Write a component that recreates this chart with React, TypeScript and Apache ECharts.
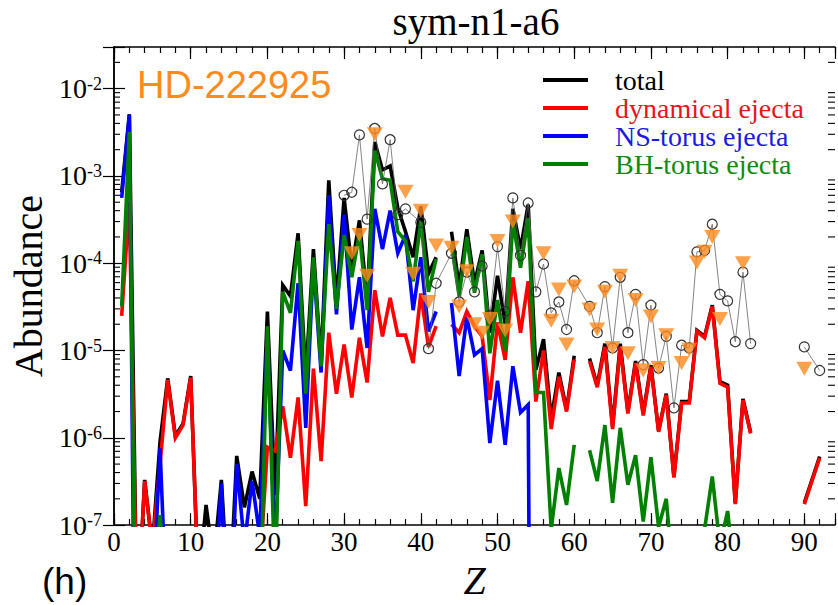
import React, { useEffect, useRef } from 'react';
import * as echarts from 'echarts';

// Atomic numbers Z = 1 .. 92 (x positions of the model curves)
const atomicNumbers: number[] = Array.from({ length: 92 }, (_, i) => i + 1);

// Model abundances indexed by Z-1 (null = no data / gap)
const total: (number | null)[] = [
  6.5e-4, 5.1e-3, 7e-9, 3.3e-7, 5.5e-8, 9e-7, 4.8e-6, 1.05e-6, 1.45e-6, 5.1e-6,
  2e-8, 1.7e-7, 3.7e-8, 3.3e-7, 1e-8, 6.2e-7, 1.6e-7, 4.1e-7, 2e-7, 2.8e-5,
  2.2e-7, 5.6e-5, 4.2e-5, 2.2e-4, 5e-6, 1.45e-4, 7.2e-6, 8.9e-4, 3.5e-5, 5.6e-4,
  8.9e-5, 3.1e-4, 3.8e-5, 2.45e-3, 1.17e-3, 1.3e-3, 4.3e-4, 2.3e-4, 1.17e-4, 4.5e-4,
  7.6e-5, 1.17e-4, null, 2.3e-4, 5.4e-5, 2.45e-4, 5.9e-5, 1.4e-4, 1.6e-5, 7.2e-5,
  2.0e-5, 4.2e-4, 1.45e-4, 4.7e-4, 6.0e-6, 1.35e-5, 1.66e-6, 5.6e-6, 2.1e-6, 8.7e-6,
  null, 8.1e-6, 4.0e-6, 1.2e-5, 1.35e-6, 1.2e-5, 2.0e-6, 7.6e-6, 1.9e-6, 6.8e-6,
  1.2e-6, 3.2e-6, 3.6e-7, 2.6e-6, 2.6e-6, 1.7e-5, 1.45e-5, 3.3e-5, 4.4e-6, 4.0e-6,
  1.8e-7, 2.8e-6, 1.15e-6, null, null, null, null, null, null, 1.8e-7,
  3.3e-7, 6.1e-7,
];

const dynamicalEjecta: (number | null)[] = [
  2.5e-5, 5e-4, 7e-9, 3.2e-7, 5.5e-8, 5e-7, 4.6e-6, 1e-6, 1.4e-6, 4.9e-6,
  2e-8, 1e-9, 1e-10, 1e-10, 1e-10, 1e-10, 1e-10, 1e-9, 3e-8, 7.8e-7,
  7e-7, 2.3e-6, 5.9e-7, 2.9e-6, 1.65e-7, 6.2e-6, 5.4e-7, 1.6e-5, 3.2e-6, 1.17e-5,
  2.9e-6, 1.4e-5, 4.3e-6, 4.9e-5, 1.45e-5, 4e-5, 1.5e-5, 1.5e-5, 7.2e-6, 4.5e-5,
  1.1e-5, 1.9e-5, null, 2e-5, 1.6e-5, 2.8e-5, 1.9e-5, 1.45e-5, 2.7e-6, 2.1e-5,
  7.8e-6, 6.9e-5, 1.6e-5, 6.2e-5, 2.6e-6, 1e-5, 1.26e-6, 5e-6, 2e-6, 7.9e-6,
  null, 7.6e-6, 3.8e-6, 1.1e-5, 1.26e-6, 1.1e-5, 1.9e-6, 7.2e-6, 1.8e-6, 6.5e-6,
  1.17e-6, 3.1e-6, 3.5e-7, 2.5e-6, 2.5e-6, 1.66e-5, 1.4e-5, 3.2e-5, 4.2e-6, 3.8e-6,
  1.74e-7, 2.7e-6, 1.12e-6, null, null, null, null, null, null, 1.74e-7,
  3.2e-7, 5.9e-7,
];

const nsTorusEjecta: (number | null)[] = [
  5.6e-4, 5e-3, 2e-12, 1e-10, 1e-8, 7.6e-7, 5e-9, 1e-10, 1e-10, 1e-10,
  1e-10, 1e-10, 1e-8, 3e-7, 3e-9, 5e-7, 6e-8, 3.2e-7, 7.5e-8, 1.6e-5,
  5e-8, 1.0e-5, 5.9e-6, 5.9e-5, 1.3e-6, 1.02e-4, 5.6e-6, 6e-4, 2.6e-5, 3.6e-4,
  1.74e-5, 6.9e-5, 1.07e-5, 4.2e-4, 1.45e-4, 4e-4, 1.3e-4, 2.1e-4, 2.9e-5, 1.17e-4,
  1.66e-5, 2.8e-5, null, 3.5e-5, 5.1e-6, 2.4e-5, 8.9e-6, 1.05e-5, 8.7e-7, 4.5e-6,
  8.3e-7, 6.6e-6, 1.95e-6, 2.4e-6, 1e-20,
];

const bhTorusEjecta: (number | null)[] = [
  3.2e-5, 3.2e-3, 1e-10, 1e-10, 1e-8, 1.3e-7, 1e-8, 1e-10, 1e-10, 1e-10,
  1e-10, 1e-10, 1e-10, 1e-10, 1e-10, 1e-10, 1e-10, 1e-10, 6e-9, 1.9e-5,
  2e-8, 4.7e-5, 2.7e-5, 1.8e-4, 3.2e-6, 1.17e-4, 6.6e-6, 2.8e-4, 3e-5, 2.1e-4,
  6.9e-5, 2.2e-4, 2.9e-5, 1.95e-3, 9.3e-4, 8.9e-4, 2.3e-4, 1.8e-4, 6.2e-5, 3e-4,
  4.7e-5, 1.12e-4, null, 1.66e-4, 4.2e-5, 2e-4, 4.6e-5, 1.26e-4, 9.3e-6, 3.8e-5,
  1e-5, 3e-4, 8.9e-5, 3.3e-4, 3.3e-6, 3.3e-6, 9e-8, 4.5e-7, 1.7e-7, 8.3e-7,
  null, 7.2e-7, 3.2e-7, 1.4e-6, 1.8e-7, 1.3e-6, 2.9e-7, 6.3e-7, 1.1e-7, 6e-7,
  9.5e-8, 2e-7, 2e-8, 1e-10, 1e-10, 1e-10, 9e-8, 3.6e-7, 5.8e-8, 1.45e-7,
  2.3e-8, 1e-10,
];

// Open circles joined by a thin line (scaled reference pattern)
const circleZ: number[] = [
  30, 31, 32, 33, 34, 35, 36, 37, 38, 40, 41, 42, 44, 45, 46, 47, 48, 49, 50, 51,
  52, 53, 54, 55, 56, 57, 58, 59, 60, 62, 63, 64, 65, 66, 67, 68, 69, 70, 71, 72,
  73, 74, 75, 76, 77, 78, 79, 80, 81, 82, 83, 84, 90, 92,
];
const circleAbundance: (number | null)[] = [
  6.0e-4, 6.5e-4, 2.95e-3, 3.2e-4, 3.5e-3, 8.1e-4, 2.6e-3, 3.6e-4, 4.2e-4, 2.95e-4,
  1.05e-5, 5.9e-5, 1.3e-4, 3.6e-5, 7.9e-5, 4.7e-5, 9.3e-5, 2.5e-5, 1.55e-4, 2.8e-5,
  5.6e-4, 1.23e-4, 4.9e-4, 4.7e-5, 9.8e-5, 2.7e-5, 3.6e-5, 1.74e-5, 6.3e-5, 3.2e-5,
  1.6e-5, 5.4e-5, 1.07e-5, 6.9e-5, 1.6e-5, 4.4e-5, 6.9e-6, 3.3e-5, 6.3e-6, 1.45e-5,
  2.2e-6, 1.15e-5, 1.07e-5, 1.35e-4, 1.4e-4, 2.8e-4, 4.4e-5, 3.7e-5, 1.26e-5, 7.9e-5,
  1.2e-5, null, 1.1e-5, 5.9e-6,
];

// HD-222925 (orange down triangles)
const starZ: number[] = [
  31, 32, 33, 34, 38, 39, 40, 41, 42, 44, 45, 46, 47, 48, 49, 50, 51, 52, 56, 57,
  58, 59, 60, 62, 63, 64, 65, 66, 67, 68, 69, 70, 71, 72, 74, 75, 76, 77, 78, 79,
  82, 90,
];
const starAbundance: number[] = [
  1.3e-4, 2.1e-4, 7.2e-5, 3.0e-3, 6.6e-4, 7.6e-5, 4e-4, 3.6e-5, 1.6e-4, 1.5e-4,
  3.2e-5, 8.1e-5, 2e-5, 1.6e-5, 2.3e-5, 1.8e-4, 1.7e-5, 3e-4, 1.3e-4, 2.2e-5,
  5e-5, 1.17e-5, 5.4e-5, 2.95e-5, 1.74e-5, 4.7e-5, 1.07e-5, 7.2e-5, 9.3e-6, 3.8e-5,
  5.9e-6, 2.45e-5, 6.3e-6, 1.5e-5, 7.2e-6, 1.02e-5, 1.02e-4, 1.35e-4, 2e-4, 2.3e-5,
  1e-4, 6.2e-6,
];

const seriesNames = ['total', 'dynamical ejecta', 'NS-torus ejecta', 'BH-torus ejecta'];
const seriesColors = ['#000000', '#ff0000', '#0000ff', '#008000'];
const legendTextColors = ['#000000', '#e8141c', '#1a1ae0', '#128a12'];

const X_MIN = 0;
const X_MAX = 94;
const Y_MIN = 1e-7;
const Y_MAX = 0.03;

export default function App() {
  const ref = useRef<HTMLDivElement>(null);

  useEffect(() => {
    if (!ref.current) return;
    const chart = echarts.init(ref.current, undefined, { renderer: 'svg' });
    const serif = '"Liberation Serif", "Times New Roman", serif';

    const toPairs = (arr: (number | null)[]) =>
      atomicNumbers.map((z, i) => [z, arr[i] == null ? '-' : arr[i]]);

    const minorLogTicks: number[] = [];
    for (let e = -7; e <= -2; e++) {
      for (let k = 2; k <= 9; k++) {
        const v = k * Math.pow(10, e);
        if (v > Y_MIN && v < Y_MAX * 0.999) minorLogTicks.push(v);
      }
    }

    const tickLine = { color: '#000', width: 1.2 };
    const xBase: any = {
      type: 'value',
      min: X_MIN,
      max: X_MAX,
      splitLine: { show: false },
      axisLine: { show: true, lineStyle: { color: '#000', width: 1.5 } },
    };

    const yLabelFormatter = (v: number) => {
      const e = Math.log10(v);
      const r = Math.round(e);
      if (Math.abs(e - r) > 1e-6) return '';
      return '10{sup|' + r + '}';
    };

    const yBase: any = {
      type: 'log',
      logBase: 10,
      min: Y_MIN,
      max: Y_MAX,
      splitLine: { show: false },
      axisLine: { show: true, lineStyle: { color: '#000', width: 1.5 } },
      axisTick: { inside: true, length: 11, lineStyle: tickLine },
    };

    const dataSets = [total, dynamicalEjecta, nsTorusEjecta, bhTorusEjecta];

    const lineSeries = dataSets.map((arr, i) => ({
      name: seriesNames[i],
      type: 'line',
      xAxisIndex: 0,
      yAxisIndex: 0,
      data: toPairs(arr),
      symbol: 'none',
      connectNulls: false,
      clip: true,
      itemStyle: { color: seriesColors[i] },
      lineStyle: { color: seriesColors[i], width: 3.6, join: 'miter', miterLimit: 4 },
      z: 2,
    }));

    const circleData = circleZ.map((z, i) => [z, circleAbundance[i] == null ? '-' : circleAbundance[i]]);
    const starData = starZ.map((z, i) => [z, starAbundance[i]]);

    const option: any = {
      animation: false,
      grid: { left: 114, right: 1, top: 47, bottom: 74, containLabel: false },
      legend: {
        data: seriesNames.map((n, i) => ({ name: n, textStyle: { color: legendTextColors[i] } })),
        orient: 'vertical',
        left: 538,
        top: 61,
        itemWidth: 45,
        itemHeight: 4,
        itemGap: 0,
        icon: 'rect',
        selectedMode: false,
        textStyle: { fontFamily: serif, fontSize: 28, lineHeight: 28, padding: [0, 0, 0, 22] },
      },
      xAxis: [
        {
          ...xBase,
          position: 'bottom',
          interval: 10,
          axisTick: { inside: true, length: 12, lineStyle: tickLine },
          axisLabel: {
            margin: 3,
            fontFamily: serif,
            fontSize: 27,
            color: '#000',
            formatter: (v: number) => (v % 10 === 0 ? String(v) : ''),
          },
          name: 'Z',
          nameLocation: 'middle',
          nameGap: 30,
          nameTextStyle: { fontFamily: serif, fontStyle: 'italic', fontSize: 40, color: '#000' },
        },
        {
          ...xBase,
          position: 'bottom',
          interval: 2,
          axisLine: { show: false },
          axisTick: { inside: true, length: 6, lineStyle: tickLine },
          axisLabel: { show: false },
        },
        {
          ...xBase,
          position: 'top',
          interval: 10,
          axisTick: { inside: true, length: 12, lineStyle: tickLine },
          axisLabel: { show: false },
        },
        {
          ...xBase,
          position: 'top',
          interval: 2,
          axisLine: { show: false },
          axisTick: { inside: true, length: 6, lineStyle: tickLine },
          axisLabel: { show: false },
        },
      ],
      yAxis: [
        {
          ...yBase,
          position: 'left',
          axisLabel: {
            margin: 12,
            fontFamily: serif,
            fontSize: 28,
            color: '#000',
            formatter: yLabelFormatter,
            rich: {
              sup: { fontFamily: serif, fontSize: 18, color: '#000', verticalAlign: 'top' },
            },
          },
          name: 'Abundance',
          nameLocation: 'middle',
          nameGap: 64,
          nameTextStyle: { fontFamily: serif, fontSize: 40, color: '#000' },
        },
        {
          ...yBase,
          position: 'right',
          axisLabel: { show: false },
        },
      ],
      graphic: [
        {
          type: 'text',
          style: {
            text: 'sym-n1-a6',
            x: 476,
            y: 21,
            font: '39px "Liberation Serif", serif',
            fill: '#000',
            textAlign: 'center',
            textVerticalAlign: 'middle',
            align: 'center',
            verticalAlign: 'middle',
          },
        },
        {
          type: 'text',
          style: {
            text: 'HD-222925',
            x: 137,
            y: 85,
            font: '38px "Liberation Sans", sans-serif',
            fill: '#ff8a1d',
            textAlign: 'left',
            textVerticalAlign: 'middle',
            align: 'left',
            verticalAlign: 'middle',
          },
        },
        {
          type: 'text',
          style: {
            text: '(h)',
            x: 42,
            y: 581,
            font: '37px "Liberation Sans", sans-serif',
            fill: '#000',
            textAlign: 'left',
            textVerticalAlign: 'middle',
            align: 'left',
            verticalAlign: 'middle',
          },
        },
      ],
      series: [
        ...lineSeries,
        {
          name: 'solar pattern',
          type: 'line',
          xAxisIndex: 0,
          yAxisIndex: 0,
          data: circleData,
          connectNulls: false,
          symbol: 'circle',
          symbolSize: 10,
          showAllSymbol: true,
          itemStyle: { color: 'rgba(255,255,255,0)', borderColor: '#333', borderWidth: 1.2 },
          lineStyle: { color: '#666', width: 0.8 },
          z: 3,
        },
        {
          name: 'HD-222925',
          type: 'scatter',
          xAxisIndex: 0,
          yAxisIndex: 0,
          data: starData,
          symbol: 'triangle',
          symbolRotate: 180,
          symbolSize: [16, 14],
          itemStyle: { color: '#ff8a1d' },
          z: 4,
        },
        {
          name: 'log minor ticks',
          type: 'custom',
          xAxisIndex: 0,
          yAxisIndex: 0,
          silent: true,
          clip: false,
          data: minorLogTicks.map((v) => [X_MIN, v]),
          renderItem: (params: any, api: any) => {
            const v = api.value(1);
            const pl = api.coord([X_MIN, v]);
            const pr = api.coord([X_MAX, v]);
            return {
              type: 'group',
              children: [
                {
                  type: 'line',
                  shape: { x1: pl[0], y1: pl[1], x2: pl[0] + 6, y2: pl[1] },
                  style: { stroke: '#000', lineWidth: 1.1 },
                },
                {
                  type: 'line',
                  shape: { x1: pr[0], y1: pr[1], x2: pr[0] - 7, y2: pr[1] },
                  style: { stroke: '#000', lineWidth: 1.1 },
                },
              ],
            };
          },
          z: 5,
        },
      ],
    };

    chart.setOption(option);
    return () => chart.dispose();
  }, []);

  return (
    <div
      ref={ref}
      style={{ position: 'fixed', left: 0, top: 0, width: 838, height: 605, background: '#fff' }}
    />
  );
}
